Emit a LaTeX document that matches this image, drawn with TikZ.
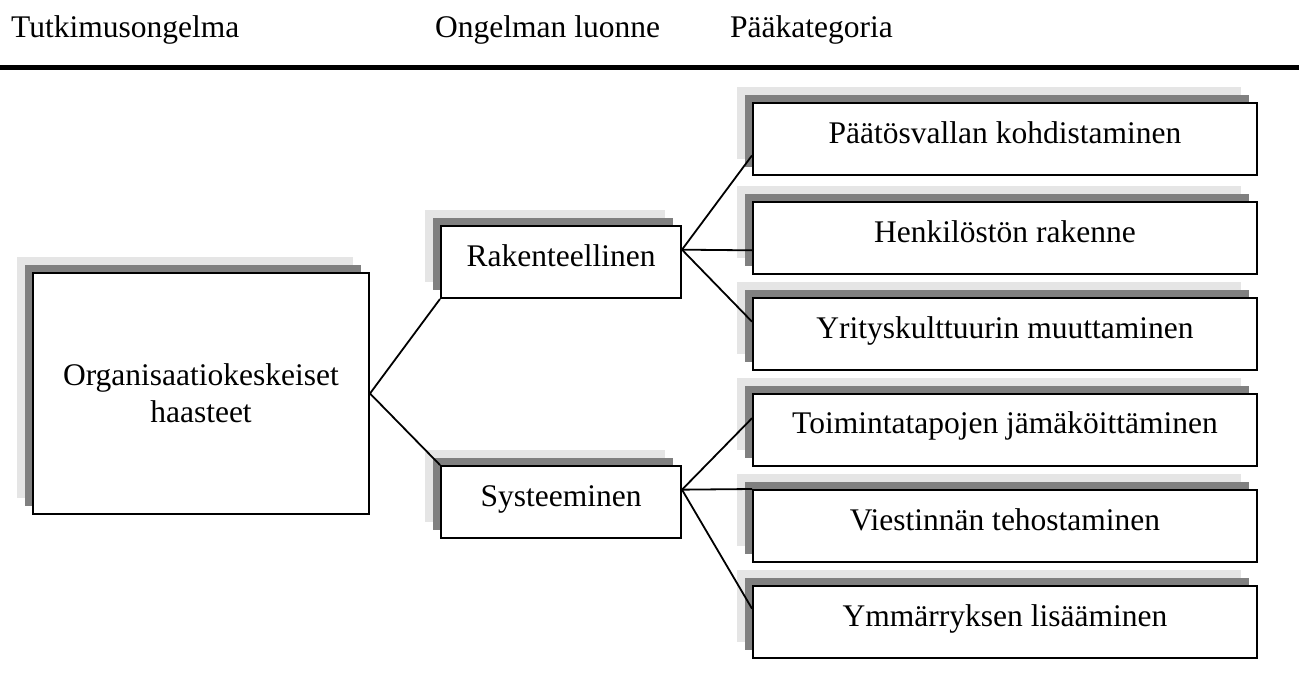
\documentclass[tikz,border=0pt]{standalone}
\usepackage{fontspec}
\setmainfont{Liberation Serif}
\usetikzlibrary{shadows,calc}
\definecolor{shadelight}{RGB}{229,229,229}
\definecolor{shadedark}{RGB}{128,128,128}
\tikzset{
  txt/.style={font=\fontsize{31.5}{37}\selectfont, inner sep=0pt},
  box/.style={txt, draw, line width=2pt, fill=white, inner sep=0pt,
    general shadow={fill=shadelight, shadow xshift=-16pt, shadow yshift=16pt},
    general shadow={fill=shadedark, shadow xshift=-8pt, shadow yshift=8pt}},
  catbox/.style={box, minimum width=504pt, minimum height=72pt,
    text height=22pt, text depth=14pt},
  midbox/.style={box, minimum width=240pt, minimum height=72pt,
    text height=22pt, text depth=14pt},
  link/.style={line width=1.8pt},
  head/.style={txt, anchor=base west}
}
\begin{document}
\begin{tikzpicture}[x=1pt, y=-1pt]
\useasboundingbox (0,0) rectangle (1299,675);

% column headings and rule
\node[head] (h1) at (11,37) {Tutkimusongelma};
\node[head] (h2) at (435,37) {Ongelman luonne};
\node[head] (h3) at (730,37) {Pääkategoria};
\coordinate (ruleL) at (0,67.5);
\coordinate (ruleR) at (1299,67.5);
\draw[line width=5pt] (ruleL) -- (ruleR);

% research problem
\node[box, minimum width=336pt, minimum height=241pt, align=center]
  (org) at (201,393.5) {Organisaatiokeskeiset\\haasteet};

% nature of the problem
\node[midbox] (rak) at (561,262) {Rakenteellinen};
\node[midbox] (sys) at (561,502) {Systeeminen};

% main categories
\node[catbox] (c1) at (1005,139)   {Päätösvallan kohdistaminen};
\node[catbox] (c2) at (1005,238)   {Henkilöstön rakenne};
\node[catbox] (c3) at (1005,334)   {Yrityskulttuurin muuttaminen};
\node[catbox] (c4) at (1005,429.5) {Toimintatapojen jämäköittäminen};
\node[catbox] (c5) at (1005,526)   {Viestinnän tehostaminen};
\node[catbox] (c6) at (1005,622)   {Ymmärryksen lisääminen};

% connectors
\draw[link] (org.east) -- (rak.south west);
\draw[link] (org.east) -- (sys.north west);

\coordinate (rakout) at ($(rak.north east)!1/3!(rak.south east)$);
\coordinate (sysout) at ($(sys.north east)!1/3!(sys.south east)$);

\draw[link] (rakout) -- ($(c1.north west)!52/72!(c1.south west)$);
\draw[link] (rakout) -- ($(c2.north west)!48/72!(c2.south west)$);
\draw[link] (rakout) -- ($(c3.north west)!24/72!(c3.south west)$);
\draw[link] (sysout) -- ($(c4.north west)!25/72!(c4.south west)$);
\draw[link] (sysout) -- (c5.north west);
\draw[link] (sysout) -- ($(c6.north west)!23/72!(c6.south west)$);
\end{tikzpicture}
\end{document}
